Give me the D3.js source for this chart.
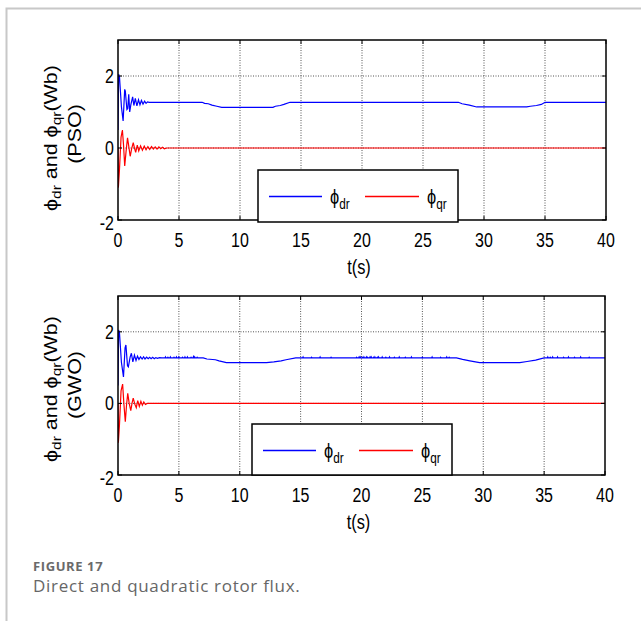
<!DOCTYPE html>
<html>
  <head>
    <meta charset="UTF-8">
    <title>Direct and quadratic rotor flux</title>
    <style>
      body { margin: 0; background: #fff; }
      svg { display: block; }
    </style>
  </head>
  <body>
    <svg></svg>
    <script src="https://d3js.org/d3.v7.min.js"></script>
    <script>

/* DATA */

var xTicks = [0, 5, 10, 15, 20, 25, 30, 35, 40];
var yTicks = [-2, 0, 2];

// PSO: phi_dr
var psoDr = [[0,0.5],[0.05,2.05],[0.12,1.98],[0.28,1.15],[0.42,0.75],[0.55,1.63],[0.6,1.58],
  [0.73,1.07],[0.8,1.1],[0.88,1.49],[0.96,1.0],[1.05,1.2],[1.2,1.42],[1.3,1.18],[1.42,1.38],
  [1.55,1.17],[1.68,1.34],[1.8,1.2],[1.92,1.32],[2.05,1.22],[2.18,1.3],[2.3,1.24],[2.42,1.28],
  [2.55,1.27],[6.9,1.27],[7.1,1.24],[7.4,1.23],[7.7,1.19],[8.1,1.16],[8.5,1.13],[12.7,1.13],
  [12.9,1.16],[13.3,1.18],[13.6,1.21],[14.1,1.27],[27.9,1.27],[28.2,1.23],[28.8,1.19],
  [29.4,1.14],[33.5,1.14],[33.8,1.16],[34.3,1.18],[34.7,1.21],[35.0,1.27],[40,1.27]];

// PSO: phi_qr
var psoQr = [[0,0],[0.03,-1.1],[0.12,-0.6],[0.25,0.3],[0.36,0.5],[0.45,0.1],[0.55,-0.5],
  [0.66,-0.1],[0.78,0.28],[0.88,0.05],[1.0,-0.23],[1.12,-0.02],[1.25,0.15],[1.35,0.0],
  [1.45,-0.12],[1.58,0.08],[1.7,-0.08],[1.85,0.06],[2.0,-0.06],[2.15,0.05],[2.3,-0.05],
  [2.45,0.04],[2.6,-0.04],[2.75,0.04],[2.9,-0.03],[3.05,0.03],[3.2,-0.03],[3.35,0.03],
  [3.5,-0.02],[3.65,0.02],[3.8,-0.02],[4.0,0],[40,0]];

// GWO: phi_dr (base trace)
var gwoDr = [[0,0.5],[0.05,2.05],[0.12,1.98],[0.28,1.15],[0.45,0.74],[0.58,1.55],[0.65,1.63],
  [0.78,1.05],[0.85,1.02],[1.0,1.3],[1.1,1.4],[1.22,1.16],[1.35,1.35],[1.48,1.2],[1.6,1.32],
  [1.72,1.23],[1.85,1.3],[1.98,1.24],[2.1,1.3],[2.22,1.24],[2.35,1.29],[2.48,1.25],
  [2.6,1.29],[2.72,1.25],[2.85,1.29],[2.98,1.25],[3.1,1.28],[3.25,1.26],[3.4,1.28],
  [3.6,1.27],[7.0,1.27],[7.3,1.24],[8.0,1.22],[8.3,1.19],[8.9,1.14],[12.2,1.14],[12.8,1.16],
  [13.4,1.19],[13.8,1.22],[14.6,1.27],[27.8,1.27],[28.3,1.23],[28.9,1.19],[29.7,1.14],
  [33.0,1.14],[33.6,1.17],[34.3,1.21],[35.0,1.27],[40,1.27]];

// GWO: small spikes on phi_dr [t, peak]
var gwoSpikes = [[3.9,1.3],[4.1,1.29],[4.3,1.3],[4.6,1.29],[4.8,1.3],[5.0,1.3],[5.3,1.29],
  [5.5,1.3],[5.7,1.3],[6.0,1.29],[6.2,1.31],[6.3,1.3],[6.5,1.29],[15.2,1.3],[15.9,1.29],
  [16.6,1.3],[17.5,1.29],[19.6,1.29],[19.8,1.3],[19.9,1.3],[20.1,1.29],[20.2,1.3],[20.4,1.3],
  [20.5,1.29],[20.7,1.3],[20.8,1.3],[21.0,1.29],[21.1,1.3],[21.3,1.29],[21.4,1.3],[21.7,1.3],
  [22.0,1.29],[22.3,1.3],[22.7,1.29],[23.1,1.3],[23.6,1.29],[24.1,1.3],[25.0,1.29],
  [25.8,1.3],[26.5,1.29],[27.0,1.3],[27.2,1.29],[35.3,1.3],[35.5,1.29],[35.7,1.3],
  [36.1,1.3],[36.6,1.29],[37.0,1.3],[37.5,1.29],[38.0,1.3],[38.7,1.29]];

// GWO: phi_qr
var gwoQr = [[0,0],[0.03,-1.1],[0.12,-0.6],[0.25,0.35],[0.38,0.54],[0.48,0.0],[0.6,-0.51],
  [0.7,-0.05],[0.8,0.28],[0.92,0.0],[1.05,-0.2],[1.15,0.0],[1.25,0.15],[1.38,-0.02],
  [1.5,-0.12],[1.62,0.08],[1.75,-0.08],[1.88,0.06],[2.0,-0.05],[2.12,0.04],[2.25,-0.03],
  [2.4,0],[40,0]];

/* HELPERS */

var W = 641, H = 621;
var SX = 0.82; // the figure's text is squeezed horizontally

// put the spikes into the phi_dr trace
function withSpikes(base, spikes, level) {
  var pts = base.slice();
  spikes.forEach(function(s) {
    pts.push([s[0] - 0.04, level], [s[0], s[1]], [s[0] + 0.04, level]);
  });
  return pts.sort(function(a, b) { return a[0] - b[0]; });
}

var svg = d3.select("svg").attr("width", W).attr("height", H);
svg.append("rect").attr("width", W).attr("height", H).attr("fill", "#fff");

// page frame
svg.append("path")
  .attr("d", "M6.5,621V8.5H641")
  .attr("fill", "none").attr("stroke", "#c8c8c8").attr("stroke-width", 2);

function txt(g, x, y, anchor, size, rotate) {
  return g.append("text")
    .attr("transform", "translate(" + x + "," + y + ") scale(" + SX + ",1)" + (rotate ? " rotate(-90)" : ""))
    .attr("text-anchor", anchor)
    .attr("font-family", "'Liberation Sans', Arial, sans-serif")
    .attr("font-size", size)
    .attr("fill", "#000");
}

function subText(t, parts) {
  // parts: [text, isSub]
  var sub = false;
  parts.forEach(function(p) {
    var ts = t.append("tspan").text(p[0]);
    if (p[1] && !sub) { ts.attr("dy", 5).attr("font-size", "0.72em"); sub = true; }
    else if (p[1]) { ts.attr("font-size", "0.72em"); }
    else if (!p[1] && sub) { ts.attr("dy", -5); sub = false; }
  });
}

function panel(cfg) {
  var g = svg.append("g");
  var x = d3.scaleLinear().domain([0, 40]).range([cfg.left, cfg.right]);
  var y = d3.scaleLinear().domain([-2, 3]).range([cfg.bottom, cfg.top]);

  var clipId = "clip" + cfg.name;
  g.append("clipPath").attr("id", clipId).append("rect")
    .attr("x", cfg.left).attr("y", cfg.top)
    .attr("width", cfg.right - cfg.left).attr("height", cfg.bottom - cfg.top);

  // grid
  g.selectAll(".vgrid").data(xTicks.slice(1, -1)).enter().append("line")
    .attr("x1", function(d) { return x(d); }).attr("x2", function(d) { return x(d); })
    .attr("y1", cfg.top).attr("y2", cfg.bottom)
    .attr("stroke", "#555").attr("stroke-width", 1).attr("stroke-dasharray", "1,1.5");
  g.selectAll(".hgrid").data([0, 2]).enter().append("line")
    .attr("x1", cfg.left).attr("x2", cfg.right)
    .attr("y1", function(d) { return y(d); }).attr("y2", function(d) { return y(d); })
    .attr("stroke", "#555").attr("stroke-width", 1).attr("stroke-dasharray", "1,1.5");

  // traces
  var line = d3.line().x(function(d) { return x(d[0]); }).y(function(d) { return y(d[1]); });
  g.append("path").datum(cfg.qr).attr("d", line).attr("clip-path", "url(#" + clipId + ")")
    .attr("fill", "none").attr("stroke", "#ff0000").attr("stroke-width", 1.2);
  g.append("path").datum(cfg.dr).attr("d", line).attr("clip-path", "url(#" + clipId + ")")
    .attr("fill", "none").attr("stroke", "#0000ff").attr("stroke-width", 1.2);

  // ticks (inside, all four sides)
  xTicks.forEach(function(t) {
    g.append("line").attr("x1", x(t)).attr("x2", x(t)).attr("y1", cfg.bottom).attr("y2", cfg.bottom - 4)
      .attr("stroke", "#000");
    g.append("line").attr("x1", x(t)).attr("x2", x(t)).attr("y1", cfg.top).attr("y2", cfg.top + 4)
      .attr("stroke", "#000");
    txt(g, x(t), cfg.bottom + 27, "middle", 19.5).text(t);
  });
  yTicks.forEach(function(t) {
    g.append("line").attr("x1", cfg.left).attr("x2", cfg.left + 4).attr("y1", y(t)).attr("y2", y(t))
      .attr("stroke", "#000");
    g.append("line").attr("x1", cfg.right).attr("x2", cfg.right - 4).attr("y1", y(t)).attr("y2", y(t))
      .attr("stroke", "#000");
    txt(g, cfg.left - 4, y(t) + 7 + (t === -2 ? 3 : 0), "end", 19.5).text(t);
  });

  // box
  g.append("rect").attr("x", cfg.left).attr("y", cfg.top)
    .attr("width", cfg.right - cfg.left).attr("height", cfg.bottom - cfg.top)
    .attr("fill", "none").attr("stroke", "#000").attr("stroke-width", 1.5);

  // axis labels
  txt(g, (cfg.left + cfg.right) / 2 - 3, cfg.bottom + 54, "middle", 20).text("t(s)");
  var yl = txt(g, cfg.labelX, cfg.labelY, "middle", 21.5, true);
  subText(yl, [["ϕ", false], ["dr", true], [" and ", false], ["ϕ", false], ["qr", true], ["(Wb)", false]]);
  txt(g, cfg.labelX + 24, cfg.labelY - 4, "middle", 21.5, true).text("(" + cfg.name + ")");

  // legend
  var lg = cfg.legend;
  g.append("rect").attr("x", lg.x).attr("y", lg.y).attr("width", lg.w).attr("height", lg.h)
    .attr("fill", "#fff").attr("stroke", "#000").attr("stroke-width", 1.5);
  var ly = Math.round(lg.y + lg.h / 2) + 0.5;
  g.append("line").attr("x1", lg.x + 11).attr("x2", lg.x + 64).attr("y1", ly).attr("y2", ly)
    .attr("stroke", "#0000ff").attr("stroke-width", 1.3);
  subText(txt(g, lg.x + 72, ly + 7, "start", 20), [["ϕ", false], ["dr", true]]);
  g.append("line").attr("x1", lg.x + 107).attr("x2", lg.x + 161).attr("y1", ly).attr("y2", ly)
    .attr("stroke", "#ff0000").attr("stroke-width", 1.3);
  subText(txt(g, lg.x + 169, ly + 7, "start", 20), [["ϕ", false], ["qr", true]]);
}

panel({
  name: "PSO", left: 118, right: 606, top: 40, bottom: 220,
  dr: psoDr, qr: psoQr,
  labelX: 57, labelY: 138,
  legend: { x: 258, y: 170, w: 200, h: 52 }
});

panel({
  name: "GWO", left: 118, right: 605, top: 296, bottom: 475,
  dr: withSpikes(gwoDr, gwoSpikes, 1.27), qr: gwoQr,
  labelX: 57, labelY: 389,
  legend: { x: 252, y: 424, w: 200, h: 51 }
});

// caption
svg.append("text").attr("x", 33).attr("y", 571)
  .attr("font-family", "'Open Sans', sans-serif").attr("font-size", 13).attr("font-weight", "bold")
  .attr("letter-spacing", 0.6)
  .attr("fill", "#6a6a6a").text("FIGURE 17");
svg.append("text").attr("x", 33).attr("y", 592)
  .attr("font-family", "'Open Sans', sans-serif").attr("font-size", 17)
  .attr("letter-spacing", 0.7)
  .attr("fill", "#666").text("Direct and quadratic rotor flux.");

    </script>
  </body>
</html>
